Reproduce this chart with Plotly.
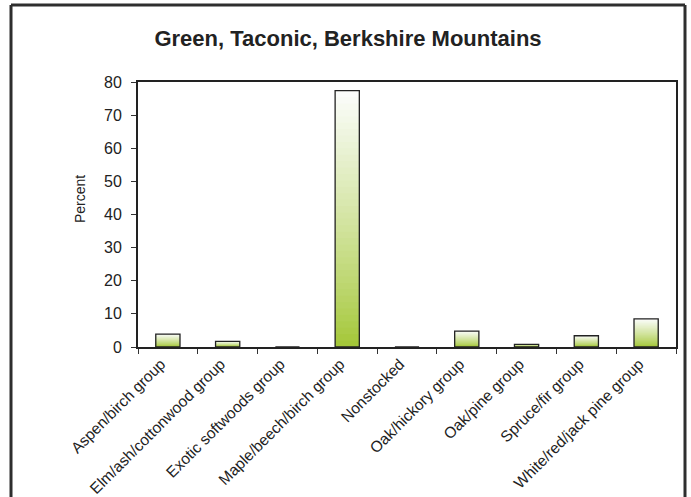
import plotly.graph_objects as go

categories = ["Aspen/birch group", "Elm/ash/cottonwood group", "Exotic softwoods group",
              "Maple/beech/birch group", "Nonstocked", "Oak/hickory group",
              "Oak/pine group", "Spruce/fir group", "White/red/jack pine group"]
percent = [3.9, 1.7, 0.0, 77.4, 0.0, 4.8, 0.8, 3.4, 8.5]
y_ticks = [0, 10, 20, 30, 40, 50, 60, 70, 80]

W, H = 691, 497
L, R, T, B = 138, 15, 82, 150

top_rgb = (252, 253, 252)
bot_rgb = (162, 198, 52)
N = 40

fig = go.Figure()
# gradient: tallest (lightest) first, then progressively shorter & greener bars on top
for k in range(N):
    frac = (N - k) / N
    f = (N - k - 0.5) / N  # position of the band (0 bottom -> 1 top)
    g = f ** 0.85
    c = tuple(round(bot_rgb[j] + (top_rgb[j] - bot_rgb[j]) * g) for j in range(3))
    fig.add_trace(go.Bar(
        x=categories,
        y=[v * frac for v in percent],
        marker=dict(color="rgb(%d,%d,%d)" % c, line=dict(width=0)),
        hoverinfo="skip", showlegend=False,
    ))
# outline
fig.add_trace(go.Bar(
    x=categories, y=percent,
    marker=dict(color="rgba(0,0,0,0)", line=dict(color="#222222", width=1.3)),
    showlegend=False,
))

pw = W - L - R
ph = H - T - B
def px(x):
    return (x - L) / pw
def py(y):
    return (H - B - y) / ph

frame_col = "#2e2e2e"
shapes = [
    dict(type="line", xref="paper", yref="paper", x0=px(11), x1=px(11), y0=py(5), y1=py(510),
         line=dict(color=frame_col, width=3)),
    dict(type="line", xref="paper", yref="paper", x0=px(685), x1=px(685), y0=py(5), y1=py(510),
         line=dict(color=frame_col, width=3)),
    dict(type="line", xref="paper", yref="paper", x0=px(11), x1=px(685), y0=py(5), y1=py(5),
         line=dict(color=frame_col, width=3)),
]

annotations = [
    dict(text="Percent", xref="paper", yref="paper", x=px(80), y=py(199),
         xanchor="center", yanchor="middle", textangle=-90, showarrow=False,
         font=dict(size=14, color="#222222")),
]

fig.update_layout(
    width=W, height=H,
    margin=dict(l=L, r=R, t=T, b=B, pad=0, autoexpand=False),
    paper_bgcolor="white", plot_bgcolor="white",
    barmode="overlay", bargap=0.595,
    font=dict(family="Liberation Sans, Arial, sans-serif", color="#222222"),
    title=dict(text="<b>Green, Taconic, Berkshire Mountains</b>", x=348 / W, xanchor="center",
               xref="container", y=1 - 38 / H, yanchor="middle",
               font=dict(size=22, color="#222222")),
    shapes=shapes,
    annotations=annotations,
)
fig.update_xaxes(
    type="category", tickangle=-45, tickson="boundaries", automargin=False,
    ticks="outside", ticklen=5, tickwidth=1, tickcolor="#333333",
    showline=True, linecolor="#222222", linewidth=2, mirror=True,
    tickfont=dict(size=15.5, color="#222222"), showgrid=False,
    ticklabelshift=-7,
)
fig.update_yaxes(
    range=[0, 80], tickvals=y_ticks, ticks="outside", ticklen=5, tickwidth=1,
    tickcolor="#333333", showline=True, linecolor="#222222", linewidth=2, mirror=True,
    tickfont=dict(size=16, color="#222222"), showgrid=False, zeroline=False,
    ticklabelstandoff=6, automargin=False,
)
fig.write_html("out.html")
